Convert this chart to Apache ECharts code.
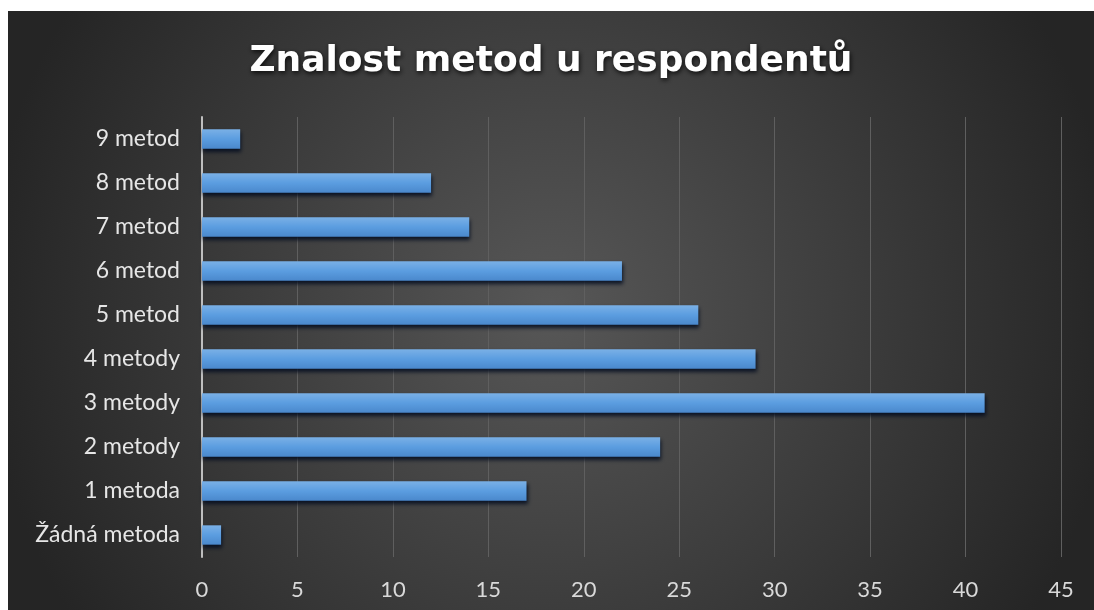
<!DOCTYPE html>
<html>
<head>
<meta charset="utf-8">
<script src="https://cdn.jsdelivr.net/npm/echarts@6/dist/echarts.min.js"></script>
<style>
html,body{margin:0;padding:0;background:#fff;width:1094px;height:610px;overflow:hidden;}
#chart{position:absolute;left:8px;top:11px;width:1086px;height:599px;}
</style>
</head>
<body>
<div id="chart"></div>
<script>
var titleText = 'Znalost metod u respondentů';
var categories = ['Žádná metoda','1 metoda','2 metody','3 metody','4 metody','5 metod','6 metod','7 metod','8 metod','9 metod'];
var values = [1, 17, 24, 41, 29, 26, 22, 14, 12, 2];
var axisMin = 0, axisMax = 45, axisStep = 5;

var chart = echarts.init(document.getElementById('chart'));
chart.setOption({
  backgroundColor: {
    type: 'radial', x: 0.5, y: 0.5, r: 0.95,
    colorStops: [{offset: 0, color: '#575757'}, {offset: 1, color: '#252525'}]
  },
  animation: false,
  title: {
    text: titleText,
    left: 'center',
    top: 28,
    textStyle: {
      color: '#ffffff',
      fontFamily: 'DejaVu Sans',
      fontWeight: 'bold',
      fontSize: 36,
      textShadowColor: 'rgba(0,0,0,0.8)',
      textShadowBlur: 5,
      textShadowOffsetX: 1,
      textShadowOffsetY: 2
    }
  },
  grid: {left: 194, right: 33, top: 106, bottom: 53, containLabel: false},
  xAxis: {
    type: 'value',
    min: axisMin, max: axisMax, interval: axisStep,
    axisLine: {show: false},
    axisTick: {show: false},
    axisLabel: {color: '#d9d9d9', fontFamily: 'Lato', fontSize: 22, margin: 22},
    splitLine: {show: true, lineStyle: {color: '#5f5f5f', width: 1}}
  },
  yAxis: {
    type: 'category',
    data: categories,
    axisLine: {show: true, lineStyle: {color: '#bfbfbf', width: 2}},
    axisTick: {show: false},
    axisLabel: {color: '#e6e6e6', fontFamily: 'Lato', fontSize: 23, margin: 22}
  },
  series: [{
    type: 'bar',
    data: values,
    barCategoryGap: '56%',
    itemStyle: {
      color: {
        type: 'linear', x: 0, y: 0, x2: 0, y2: 1,
        colorStops: [
          {offset: 0, color: '#7ab0e6'},
          {offset: 0.5, color: '#5b9de0'},
          {offset: 1, color: '#4a88cc'}
        ]
      },
      shadowColor: 'rgba(0,10,30,0.85)',
      shadowBlur: 4,
      shadowOffsetX: 1,
      shadowOffsetY: 3
    }
  }]
});
</script>
</body>
</html>
